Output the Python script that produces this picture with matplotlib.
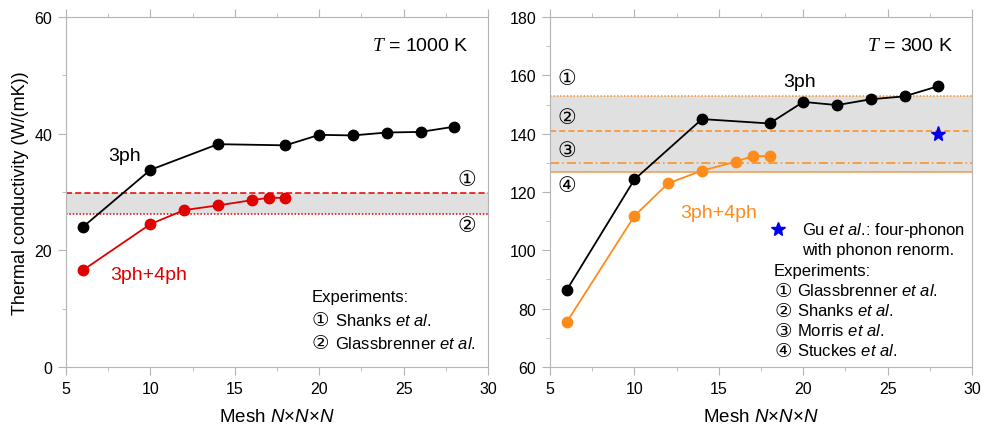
import matplotlib
matplotlib.use("Agg")
import matplotlib.pyplot as plt
from matplotlib.ticker import MultipleLocator

plt.rcParams["font.family"] = ["Liberation Sans", "DejaVu Sans"]
plt.rcParams["mathtext.fontset"] = "custom"
plt.rcParams["mathtext.rm"] = "Liberation Sans"
plt.rcParams["mathtext.it"] = "Liberation Sans:italic"
plt.rcParams["mathtext.cal"] = "Liberation Serif:italic"

# T = 1000 K
mesh_3ph_hot = [6, 10, 14, 18, 20, 22, 24, 26, 28]
k_3ph_hot = [24.0, 33.8, 38.2, 38.0, 39.8, 39.7, 40.2, 40.3, 41.2]
mesh_4ph_hot = [6, 10, 12, 14, 16, 17, 18]
k_4ph_hot = [16.6, 24.5, 26.9, 27.7, 28.6, 29.0, 29.0]
exp_hot = [29.9, 26.2]  # Shanks, Glassbrenner
refs_hot = ["Shanks", "Glassbrenner"]

# T = 300 K
mesh_3ph_rt = [6, 10, 14, 18, 20, 22, 24, 26, 28]
k_3ph_rt = [86.5, 124.3, 145.0, 143.5, 150.9, 149.8, 151.8, 152.8, 156.3]
mesh_4ph_rt = [6, 10, 12, 14, 16, 17, 18]
k_4ph_rt = [75.5, 111.8, 123.0, 127.3, 130.4, 132.3, 132.3]
exp_rt = [152.9, 140.8, 129.8, 127.0]
refs_rt = ["Glassbrenner", "Shanks", "Morris", "Stuckes"]
gu_mesh, gu_k = 28, 139.8

CIRCLED = ["①", "②", "③", "④"]
RED = "#e00000"
ORANGE = "#ff8c1a"
GREY = "#b4b4b4"
BAND = "#e0e0e0"
SYM = ["DejaVu Sans"]

fig = plt.figure(figsize=(9.84, 4.31), dpi=100)
ax1 = fig.add_axes([0.0671, 0.1462, 0.4289, 0.812])
ax2 = fig.add_axes([0.559, 0.1462, 0.4289, 0.812])


def style(ax):
    for s in ax.spines.values():
        s.set_color(GREY)
    ax.set_xlim(5, 30)
    ax.xaxis.set_major_locator(MultipleLocator(5))
    ax.xaxis.set_minor_locator(MultipleLocator(2.5))
    ax.yaxis.set_major_locator(MultipleLocator(20))
    ax.yaxis.set_minor_locator(MultipleLocator(10))
    ax.tick_params(which="both", direction="out", color=GREY, labelsize=11.5,
                   top=True, right=False, pad=4)
    ax.tick_params(which="major", length=6)
    ax.tick_params(which="minor", length=3)
    ax.set_xlabel("Mesh $N$×$N$×$N$", fontsize=13.5, labelpad=9)


def exp_list(ax, x, y0, dy, names):
    ax.text(x, y0, "Experiments:", fontsize=12, ha="left", va="center")
    for i, name in enumerate(names):
        y = y0 - (i + 1) * dy
        ax.text(x, y, CIRCLED[i], family=SYM, fontsize=14, ha="left", va="center")
        ax.annotate(name + r" $\mathit{et\ al.}$", (x, y), xytext=(16.5, 0),
                    textcoords="offset points", fontsize=12, ha="left", va="center")


# left panel
style(ax1)
ax1.set_ylim(0, 60)
ax1.axhspan(exp_hot[1], exp_hot[0], color=BAND, lw=0, zorder=0)
ax1.axhline(exp_hot[0], color=RED, ls=(0, (4, 2)), lw=1.1)
ax1.axhline(exp_hot[1], color=RED, ls=(0, (1, 1.2)), lw=1.1)
ax1.plot(mesh_3ph_hot, k_3ph_hot, "-o", color="black", ms=7.5, lw=1.3)
ax1.plot(mesh_4ph_hot, k_4ph_hot, "-o", color=RED, ms=7.5, lw=1.3)
ax1.set_ylabel("Thermal conductivity (W/(mK))", fontsize=13)
ax1.text(0.955, 0.92, r"$\mathcal{T}$ = 1000 K", transform=ax1.transAxes,
         ha="right", va="center", fontsize=14)
ax1.text(7.5, 36.2, "3ph", fontsize=14, ha="left", va="center")
ax1.text(7.6, 15.8, "3ph+4ph", fontsize=14, color=RED, ha="left", va="center")
ax1.text(29.3, 32.2, CIRCLED[0], family=SYM, fontsize=15, ha="right", va="center")
ax1.text(29.3, 24.3, CIRCLED[1], family=SYM, fontsize=15, ha="right", va="center")
exp_list(ax1, 19.57, 12.0, 3.94, refs_hot)

# right panel
style(ax2)
ax2.set_ylim(60, 180)
ax2.axhspan(exp_rt[3], exp_rt[0], color=BAND, lw=0, zorder=0)
ax2.axhline(exp_rt[0], color=ORANGE, ls=(0, (1, 1.2)), lw=1.1)
ax2.axhline(exp_rt[1], color=ORANGE, ls=(0, (4, 2)), lw=1.1)
ax2.axhline(exp_rt[2], color=ORANGE, ls=(0, (6, 2, 1, 2)), lw=1.1)
ax2.axhline(exp_rt[3], color="#f0a060", ls="-", lw=1.2)
ax2.plot(mesh_3ph_rt, k_3ph_rt, "-o", color="black", ms=7.5, lw=1.3)
ax2.plot(mesh_4ph_rt, k_4ph_rt, "-o", color=ORANGE, ms=7.5, lw=1.3)
ax2.plot([gu_mesh], [gu_k], "*", color="#0000ee", ms=11)
ax2.text(0.955, 0.92, r"$\mathcal{T}$ = 300 K", transform=ax2.transAxes,
         ha="right", va="center", fontsize=14)
for i, yy in enumerate([159.1, 145.7, 134.4, 122.4]):
    ax2.text(5.41, yy, CIRCLED[i], family=SYM, fontsize=15, ha="left", va="center")
ax2.text(18.8, 158.0, "3ph", fontsize=14, ha="left", va="center")
ax2.text(12.7, 113.1, "3ph+4ph", fontsize=14, color=ORANGE, ha="left", va="center")
ax2.plot([18.5], [107.3], "*", color="#0000ee", ms=10, clip_on=False)
ax2.text(19.9, 103.9, "Gu $\\mathit{et\\ al.}\\!$: four-phonon\nwith phonon renorm.",
         fontsize=12, ha="left", va="center", linespacing=1.25)
exp_list(ax2, 18.27, 93.2, 6.86, refs_rt)

fig.savefig("out.png", dpi=100)
